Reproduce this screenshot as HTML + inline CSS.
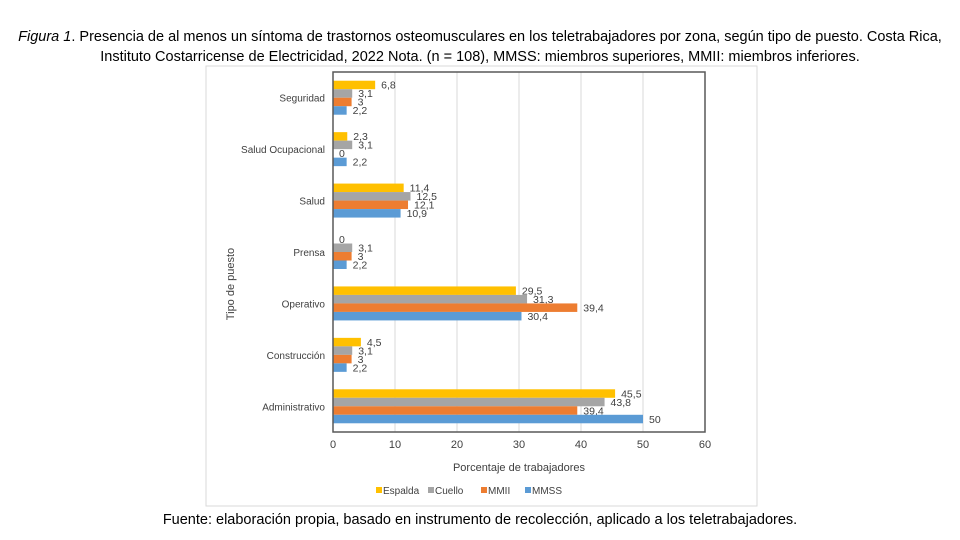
<!DOCTYPE html>
<html><head><meta charset="utf-8">
<style>
body{margin:0;width:960px;height:540px;background:#fff;font-family:"Liberation Sans",sans-serif;overflow:hidden;position:relative}
.cap{position:absolute;left:0;width:960px;text-align:center;font-size:14.5px;color:#000}
</style></head><body>
<div class="cap" style="top:27px;line-height:20px"><i>Figura 1</i>. Presencia de al menos un síntoma de trastornos osteomusculares en los teletrabajadores por zona, según tipo de puesto. Costa Rica,<br>Instituto Costarricense de Electricidad, 2022 Nota. (n = 108), MMSS: miembros superiores, MMII: miembros inferiores.</div>
<svg id="chart" width="960" height="540" style="position:absolute;left:0;top:0"></svg>
<div class="cap" style="top:512px">Fuente: elaboración propia, basado en instrumento de recolección, aplicado a los teletrabajadores.</div>
<script>
const categories=["Seguridad","Salud Ocupacional","Salud","Prensa","Operativo","Construcción","Administrativo"];
const seriesNames=["Espalda","Cuello","MMII","MMSS"];
const espalda=[6.8,2.3,11.4,0,29.5,4.5,45.5];
const cuello=[3.1,3.1,12.5,3.1,31.3,3.1,43.8];
const mmii=[3,0,12.1,3,39.4,3,39.4];
const mmss=[2.2,2.2,10.9,2.2,30.4,2.2,50];
const xTicks=[0,10,20,30,40,50,60];
const colors=["#FFC000","#A5A5A5","#ED7D31","#5B9BD5"];
const series=[espalda,cuello,mmii,mmss];
const NS="http://www.w3.org/2000/svg";
const svg=document.getElementById('chart');
const L=333,R=705,T=72,B=432;
const x=v=>L+(v-0)/60*(R-L);
const band=(B-T)/categories.length;
const barH=8.5;
function el(t,a,p){const e=document.createElementNS(NS,t);for(const k in a)e.setAttribute(k,a[k]);(p||svg).appendChild(e);return e;}
const frame=el('rect',{x:206,y:66,width:551,height:440,fill:'none',stroke:'#d9d9d9'});


xTicks.forEach(t=>{
  const g=el('line',{x1:x(t),x2:x(t),y1:T,y2:B,stroke:'#d9d9d9'});
  
  
  const tx=el('text',{x:x(t),y:B+16,'text-anchor':'middle','font-size':11,fill:'#404040'});
  tx.textContent=t;
  
  
});
categories.forEach((c,i)=>{
  const cy=T+band*i+band/2;
  const lab=el('text',{x:L-8,y:cy+4,'text-anchor':'end','font-size':10,fill:'#404040'});
  lab.textContent=c;
  
  
  series.forEach((s,j)=>{
    const y=cy-2*barH+j*barH;
    const r=el('rect',{x:L,y:y,width:Math.max(0,x(s[i])-L),height:barH,fill:colors[j]});
    
    
    const v=el('text',{x:x(s[i])+6,y:y+barH-0.5,'font-size':10.5,fill:'#404040'});
    v.textContent=String(s[i]).replace('.',',');
    
    
  });
});
const box=el('rect',{x:L,y:T,width:R-L,height:B-T,fill:'none',stroke:'#595959','stroke-width':1.5});


const xt=el('text',{x:(L+R)/2,y:471,'text-anchor':'middle','font-size':11,fill:'#404040'});
xt.textContent='Porcentaje de trabajadores';


const yt=el('text',{x:0,y:0,'text-anchor':'middle','font-size':11,fill:'#404040',transform:'translate(234,284) rotate(-90)'});
yt.textContent='Tipo de puesto';


const lx=[376,428,481,525];
seriesNames.forEach((n,j)=>{
  const s=el('rect',{x:lx[j],y:487,width:6,height:6,fill:colors[j]});
  
  
  const t=el('text',{x:lx[j]+7,y:494,'font-size':10,fill:'#404040'});
  t.textContent=n;
  
  
});
</script>
</body></html>
